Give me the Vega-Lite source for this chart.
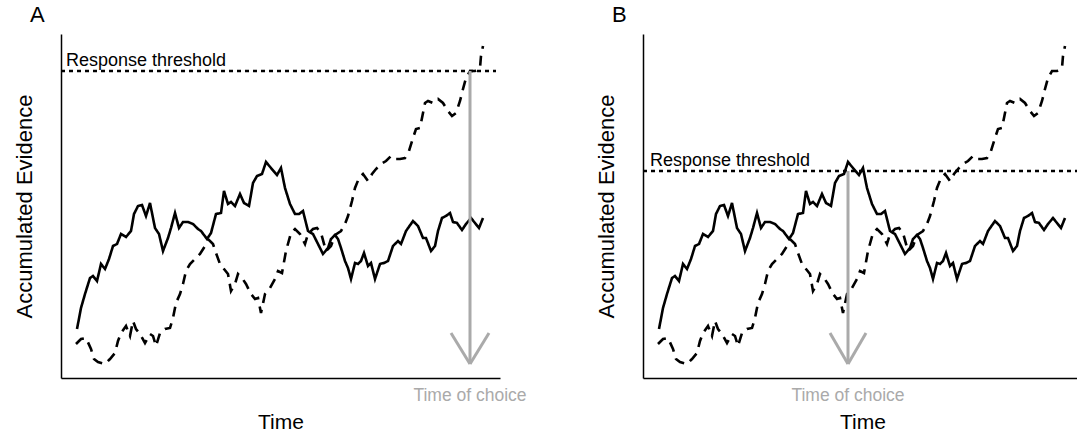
{
  "$schema": "https://vega.github.io/schema/vega-lite/v6.json",
  "padding": {"left": 13, "top": 4, "right": 0, "bottom": 0},
  "spacing": 143,
  "bounds": "flush",
  "config": {
    "font": "Liberation Sans",
    "view": {"stroke": null},
    "axis": {"domain": true, "ticks": false, "labels": false, "grid": false, "domainColor": "#000", "domainWidth": 1.5, "titleFont": "Liberation Sans", "titleFontWeight": "normal", "titleColor": "#000"},
    "axisX": {"titleFontSize": 21, "titlePadding": 50, "titleBaseline": "alphabetic"},
    "axisY": {"titleFontSize": 22, "titlePadding": 30, "titleBaseline": "alphabetic"},
    "title": {"fontSize": 22, "fontWeight": "normal", "anchor": "start", "frame": "group", "dx": -31, "baseline": "alphabetic", "offset": 7, "color": "#000"}
  },
  "datasets": {
    "walk": [
      {"s":"solid","t":16,"v":49},{"s":"solid","t":20,"v":70},{"s":"solid","t":24,"v":84},{"s":"solid","t":29,"v":100},{"s":"solid","t":32,"v":102},{"s":"solid","t":36,"v":97},{"s":"solid","t":40,"v":114},{"s":"solid","t":44,"v":109},{"s":"solid","t":48,"v":119},{"s":"solid","t":52,"v":132},{"s":"solid","t":56,"v":134},{"s":"solid","t":60,"v":144},{"s":"solid","t":65,"v":141},{"s":"solid","t":70,"v":147},{"s":"solid","t":73,"v":164},{"s":"solid","t":77,"v":172},{"s":"solid","t":81,"v":173},{"s":"solid","t":85,"v":162},{"s":"solid","t":89,"v":175},{"s":"solid","t":94,"v":150},{"s":"solid","t":98,"v":144},{"s":"solid","t":102,"v":127},{"s":"solid","t":107,"v":140},{"s":"solid","t":110,"v":150},{"s":"solid","t":114,"v":165},{"s":"solid","t":118,"v":150},{"s":"solid","t":122,"v":156},{"s":"solid","t":127,"v":156},{"s":"solid","t":132,"v":154},{"s":"solid","t":137,"v":149},{"s":"solid","t":140,"v":147},{"s":"solid","t":146,"v":139},{"s":"solid","t":150,"v":145},{"s":"solid","t":155,"v":164},{"s":"solid","t":160,"v":165},{"s":"solid","t":163,"v":187},{"s":"solid","t":167,"v":174},{"s":"solid","t":170,"v":176},{"s":"solid","t":174,"v":172},{"s":"solid","t":179,"v":184},{"s":"solid","t":183,"v":175},{"s":"solid","t":188,"v":172},{"s":"solid","t":192,"v":195},{"s":"solid","t":196,"v":202},{"s":"solid","t":201,"v":204},{"s":"solid","t":205,"v":216},{"s":"solid","t":210,"v":210},{"s":"solid","t":216,"v":203},{"s":"solid","t":220,"v":210},{"s":"solid","t":224,"v":190},{"s":"solid","t":229,"v":174},{"s":"solid","t":234,"v":164},{"s":"solid","t":238,"v":164},{"s":"solid","t":242,"v":167},{"s":"solid","t":247,"v":147},{"s":"solid","t":252,"v":144},{"s":"solid","t":257,"v":134},{"s":"solid","t":262,"v":124},{"s":"solid","t":267,"v":130},{"s":"solid","t":270,"v":139},{"s":"solid","t":274,"v":143},{"s":"solid","t":277,"v":139},{"s":"solid","t":280,"v":130},{"s":"solid","t":284,"v":117},{"s":"solid","t":287,"v":110},{"s":"solid","t":290,"v":99},{"s":"solid","t":294,"v":115},{"s":"solid","t":297,"v":114},{"s":"solid","t":300,"v":117},{"s":"solid","t":303,"v":125},{"s":"solid","t":307,"v":112},{"s":"solid","t":310,"v":115},{"s":"solid","t":314,"v":99},{"s":"solid","t":319,"v":114},{"s":"solid","t":323,"v":115},{"s":"solid","t":327,"v":117},{"s":"solid","t":332,"v":132},{"s":"solid","t":337,"v":137},{"s":"solid","t":340,"v":134},{"s":"solid","t":345,"v":147},{"s":"solid","t":352,"v":157},{"s":"solid","t":357,"v":152},{"s":"solid","t":362,"v":140},{"s":"solid","t":365,"v":140},{"s":"solid","t":370,"v":127},{"s":"solid","t":374,"v":132},{"s":"solid","t":377,"v":147},{"s":"solid","t":381,"v":160},{"s":"solid","t":385,"v":162},{"s":"solid","t":389,"v":165},{"s":"solid","t":392,"v":156},{"s":"solid","t":396,"v":155},{"s":"solid","t":401,"v":148},{"s":"solid","t":405,"v":154},{"s":"solid","t":410,"v":160},{"s":"solid","t":414,"v":155},{"s":"solid","t":418,"v":150},{"s":"solid","t":422,"v":160},
      {"s":"dashed","t":15,"v":34},{"s":"dashed","t":20,"v":39},{"s":"dashed","t":25,"v":40},{"s":"dashed","t":30,"v":29},{"s":"dashed","t":33,"v":19},{"s":"dashed","t":37,"v":16},{"s":"dashed","t":44,"v":14},{"s":"dashed","t":49,"v":19},{"s":"dashed","t":54,"v":25},{"s":"dashed","t":57,"v":37},{"s":"dashed","t":60,"v":45},{"s":"dashed","t":65,"v":52},{"s":"dashed","t":69,"v":42},{"s":"dashed","t":72,"v":57},{"s":"dashed","t":75,"v":49},{"s":"dashed","t":79,"v":44},{"s":"dashed","t":84,"v":35},{"s":"dashed","t":89,"v":44},{"s":"dashed","t":92,"v":42},{"s":"dashed","t":95,"v":32},{"s":"dashed","t":99,"v":45},{"s":"dashed","t":104,"v":49},{"s":"dashed","t":109,"v":50},{"s":"dashed","t":112,"v":60},{"s":"dashed","t":115,"v":75},{"s":"dashed","t":119,"v":84},{"s":"dashed","t":122,"v":94},{"s":"dashed","t":125,"v":107},{"s":"dashed","t":129,"v":114},{"s":"dashed","t":134,"v":119},{"s":"dashed","t":139,"v":124},{"s":"dashed","t":144,"v":132},{"s":"dashed","t":148,"v":138},{"s":"dashed","t":152,"v":134},{"s":"dashed","t":155,"v":125},{"s":"dashed","t":159,"v":114},{"s":"dashed","t":163,"v":109},{"s":"dashed","t":167,"v":104},{"s":"dashed","t":170,"v":87},{"s":"dashed","t":174,"v":94},{"s":"dashed","t":177,"v":104},{"s":"dashed","t":181,"v":100},{"s":"dashed","t":185,"v":94},{"s":"dashed","t":190,"v":84},{"s":"dashed","t":194,"v":79},{"s":"dashed","t":197,"v":80},{"s":"dashed","t":200,"v":65},{"s":"dashed","t":204,"v":84},{"s":"dashed","t":209,"v":90},{"s":"dashed","t":214,"v":99},{"s":"dashed","t":217,"v":107},{"s":"dashed","t":221,"v":105},{"s":"dashed","t":225,"v":127},{"s":"dashed","t":230,"v":145},{"s":"dashed","t":234,"v":149},{"s":"dashed","t":239,"v":144},{"s":"dashed","t":244,"v":134},{"s":"dashed","t":247,"v":144},{"s":"dashed","t":252,"v":149},{"s":"dashed","t":256,"v":150},{"s":"dashed","t":260,"v":145},{"s":"dashed","t":265,"v":127},{"s":"dashed","t":270,"v":132},{"s":"dashed","t":274,"v":143},{"s":"dashed","t":280,"v":147},{"s":"dashed","t":284,"v":154},{"s":"dashed","t":287,"v":162},{"s":"dashed","t":291,"v":177},{"s":"dashed","t":294,"v":190},{"s":"dashed","t":298,"v":200},{"s":"dashed","t":302,"v":204},{"s":"dashed","t":307,"v":197},{"s":"dashed","t":311,"v":204},{"s":"dashed","t":315,"v":209},{"s":"dashed","t":320,"v":214},{"s":"dashed","t":325,"v":217},{"s":"dashed","t":330,"v":222},{"s":"dashed","t":334,"v":219},{"s":"dashed","t":339,"v":219},{"s":"dashed","t":344,"v":220},{"s":"dashed","t":348,"v":227},{"s":"dashed","t":352,"v":240},{"s":"dashed","t":355,"v":249},{"s":"dashed","t":359,"v":250},{"s":"dashed","t":361,"v":260},{"s":"dashed","t":364,"v":275},{"s":"dashed","t":367,"v":277},{"s":"dashed","t":372,"v":275},{"s":"dashed","t":377,"v":279},{"s":"dashed","t":382,"v":275},{"s":"dashed","t":387,"v":267},{"s":"dashed","t":391,"v":262},{"s":"dashed","t":395,"v":265},{"s":"dashed","t":399,"v":277},{"s":"dashed","t":402,"v":289},{"s":"dashed","t":405,"v":300},{"s":"dashed","t":409,"v":307},{"s":"dashed","t":414,"v":307},{"s":"dashed","t":419,"v":310},{"s":"dashed","t":420,"v":322},{"s":"dashed","t":422,"v":332}
    ]
  },
  "hconcat": [
    {
      "width": 439, "height": 344,
      "title": {"text": "A"},
      "layer": [
        {"data": {"name": "walk"}, "mark": {"type": "line", "color": "#000", "strokeWidth": 2.6},
         "encoding": {"x": {"field": "t", "type": "quantitative", "title": "Time", "scale": {"domain": [0, 439], "nice": false, "zero": false}},
                      "y": {"field": "v", "type": "quantitative", "title": "Accumulated Evidence", "scale": {"domain": [0, 344], "nice": false, "zero": false}},
                      "detail": {"field": "s"},
                      "strokeDash": {"field": "s", "type": "nominal", "scale": {"domain": ["solid", "dashed"], "range": [[1, 0], [10, 7]]}, "legend": null}}},
        {"data": {"values": [{"t": 0, "t2": 435, "v": 307}]}, "mark": {"type": "rule", "color": "#000", "strokeWidth": 2.5, "strokeDash": [4, 4]},
         "encoding": {"x": {"field": "t", "type": "quantitative", "title": "Time"}, "x2": {"field": "t2"}, "y": {"field": "v", "type": "quantitative", "title": "Accumulated Evidence"}}},
        {"data": {"values": [{"t": 5, "v": 312, "label": "Response threshold"}]}, "mark": {"type": "text", "align": "left", "baseline": "alphabetic", "fontSize": 18, "color": "#000"},
         "encoding": {"x": {"field": "t", "type": "quantitative", "title": "Time"}, "y": {"field": "v", "type": "quantitative", "title": "Accumulated Evidence"}, "text": {"field": "label"}}},
        {"data": {"values": [{"t": 409, "v": 307, "t2": 409, "v2": 14}, {"t": 390, "v": 45, "t2": 409, "v2": 14}, {"t": 428, "v": 45, "t2": 409, "v2": 14}]}, "mark": {"type": "rule", "color": "#aaaaaa", "strokeWidth": 3},
         "encoding": {"x": {"field": "t", "type": "quantitative", "title": "Time"}, "x2": {"field": "t2"}, "y": {"field": "v", "type": "quantitative", "title": "Accumulated Evidence"}, "y2": {"field": "v2"}}},
        {"data": {"values": [{"t": 409, "v": -23, "label": "Time of choice"}]}, "mark": {"type": "text", "align": "center", "baseline": "alphabetic", "fontSize": 17.5, "color": "#aaaaaa"},
         "encoding": {"x": {"field": "t", "type": "quantitative", "title": "Time"}, "y": {"field": "v", "type": "quantitative", "title": "Accumulated Evidence"}, "text": {"field": "label"}}}
      ]
    },
    {
      "width": 439, "height": 344,
      "title": {"text": "B"},
      "layer": [
        {"data": {"name": "walk"}, "mark": {"type": "line", "color": "#000", "strokeWidth": 2.6},
         "encoding": {"x": {"field": "t", "type": "quantitative", "title": "Time", "scale": {"domain": [0, 439], "nice": false, "zero": false}},
                      "y": {"field": "v", "type": "quantitative", "title": "Accumulated Evidence", "scale": {"domain": [0, 344], "nice": false, "zero": false}},
                      "detail": {"field": "s"},
                      "strokeDash": {"field": "s", "type": "nominal", "scale": {"domain": ["solid", "dashed"], "range": [[1, 0], [10, 7]]}, "legend": null}}},
        {"data": {"values": [{"t": 0, "t2": 439, "v": 207}]}, "mark": {"type": "rule", "color": "#000", "strokeWidth": 2.5, "strokeDash": [4, 4]},
         "encoding": {"x": {"field": "t", "type": "quantitative", "title": "Time"}, "x2": {"field": "t2"}, "y": {"field": "v", "type": "quantitative", "title": "Accumulated Evidence"}}},
        {"data": {"values": [{"t": 7, "v": 212, "label": "Response threshold"}]}, "mark": {"type": "text", "align": "left", "baseline": "alphabetic", "fontSize": 18, "color": "#000"},
         "encoding": {"x": {"field": "t", "type": "quantitative", "title": "Time"}, "y": {"field": "v", "type": "quantitative", "title": "Accumulated Evidence"}, "text": {"field": "label"}}},
        {"data": {"values": [{"t": 205, "v": 207, "t2": 205, "v2": 14}, {"t": 187, "v": 45, "t2": 205, "v2": 14}, {"t": 223, "v": 45, "t2": 205, "v2": 14}]}, "mark": {"type": "rule", "color": "#aaaaaa", "strokeWidth": 3},
         "encoding": {"x": {"field": "t", "type": "quantitative", "title": "Time"}, "x2": {"field": "t2"}, "y": {"field": "v", "type": "quantitative", "title": "Accumulated Evidence"}, "y2": {"field": "v2"}}},
        {"data": {"values": [{"t": 205, "v": -23, "label": "Time of choice"}]}, "mark": {"type": "text", "align": "center", "baseline": "alphabetic", "fontSize": 17.5, "color": "#aaaaaa"},
         "encoding": {"x": {"field": "t", "type": "quantitative", "title": "Time"}, "y": {"field": "v", "type": "quantitative", "title": "Accumulated Evidence"}, "text": {"field": "label"}}}
      ]
    }
  ]
}
